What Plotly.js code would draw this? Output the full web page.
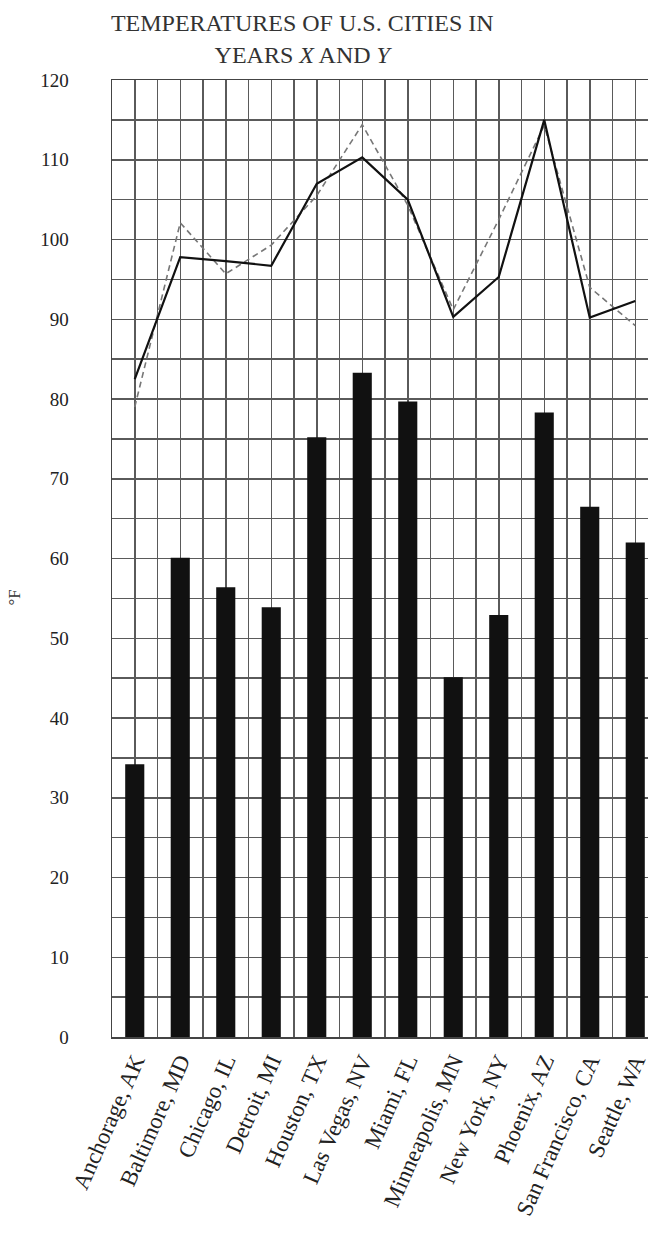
<!DOCTYPE html>
<html>
<head>
<meta charset="utf-8">
<script src="https://cdn.plot.ly/plotly-3.0.1.min.js"></script>
<style>
html, body { margin: 0; padding: 0; overflow: hidden; background: #fff; }
#chart { width: 660px; height: 1259px; }
</style>
</head>
<body>
<div id="chart"></div>
<script>
const cities = ["Anchorage, AK", "Baltimore, MD", "Chicago, IL", "Detroit, MI", "Houston, TX",
  "Las Vegas, NV", "Miami, FL", "Minneapolis, MN", "New York, NY", "Phoenix, AZ",
  "San Francisco, CA", "Seattle, WA"];
const barValues = [34.2, 60.1, 56.4, 53.9, 75.2, 83.3, 79.7, 45.1, 52.9, 78.3, 66.5, 62.0];
const yearX = [82.5, 97.8, 97.3, 96.7, 107.0, 110.3, 105.0, 90.3, 95.3, 115.0, 90.2, 92.3];
const yearY = [79.0, 102.1, 95.7, 99.3, 105.5, 114.4, 104.3, 91.2, 102.5, 114.3, 94.0, 89.2];
const yTicks = [0, 10, 20, 30, 40, 50, 60, 70, 80, 90, 100, 110, 120];

const idx = cities.map((c, i) => i);
const serif = "Liberation Serif, Times New Roman, serif";
const gridCol = "#5a5a5a";

const traces = [
  { type: "bar", x: idx, y: barValues, width: 0.42,
    marker: { color: "#111111", line: { width: 0 } }, hoverinfo: "skip" },
  { type: "scatter", mode: "lines", x: idx, y: yearY,
    line: { color: "#777777", width: 1.6, dash: "6px,4px" } },
  { type: "scatter", mode: "lines", x: idx, y: yearX,
    line: { color: "#111111", width: 2.2 } }
];

const layout = {
  width: 660, height: 1259,
  margin: { l: 112, r: 2, t: 80, b: 222 },
  paper_bgcolor: "#ffffff", plot_bgcolor: "#ffffff",
  showlegend: false,
  font: { family: serif, color: "#222222", size: 18 },
  title: {
    text: "TEMPERATURES OF U.S. CITIES IN<br>YEARS <i>X</i> AND <i>Y</i>",
    font: { family: serif, size: 24, color: "#333333" },
    xref: "container", x: 0.458, xanchor: "center",
    yref: "container", y: 0.975, yanchor: "top"
  },
  xaxis: {
    type: "linear", range: [-0.5, 11.5],
    tickmode: "array", tickvals: idx, ticktext: cities,
    tickangle: -66, tickfont: { family: serif, size: 23, color: "#222" },
    showgrid: true, gridcolor: gridCol, gridwidth: 1.5,
    minor: { tickmode: "linear", tick0: -0.5, dtick: 0.5, showgrid: true, gridcolor: gridCol, gridwidth: 1.5, ticks: "" },
    showline: true, linecolor: "#444", linewidth: 1.5, mirror: true,
    zeroline: false, ticks: "", fixedrange: true
  },
  yaxis: {
    range: [0, 120], tickmode: "array", tickvals: yTicks,
    tickfont: { family: serif, size: 19, color: "#222" },
    ticklabelstandoff: 38,
    showgrid: true, gridcolor: gridCol, gridwidth: 1.5,
    minor: { tickmode: "linear", tick0: 0, dtick: 5, showgrid: true, gridcolor: gridCol, gridwidth: 1.5, ticks: "" },
    showline: true, linecolor: "#444", linewidth: 1.5, mirror: true,
    zeroline: false, ticks: ""
  },
  annotations: [
    { text: "°F", textangle: -90, showarrow: false,
      xref: "paper", x: -0.178, xanchor: "center",
      yref: "paper", y: 0.459, yanchor: "middle",
      font: { family: serif, size: 17, color: "#333" } }
  ]
};

Plotly.newPlot("chart", traces, layout, { staticPlot: true, displayModeBar: false });
</script>
</body>
</html>
